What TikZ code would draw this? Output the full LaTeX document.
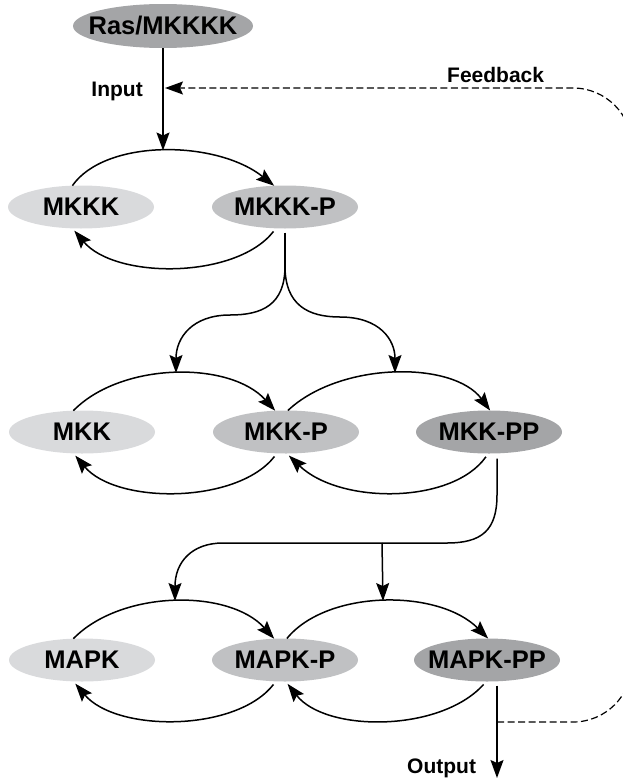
\documentclass[tikz,border=0pt]{standalone}
\usepackage{fontspec}
\setmainfont{Liberation Sans}
\usetikzlibrary{arrows.meta,shapes.geometric}
\definecolor{lightg}{RGB}{217,218,220}
\definecolor{midg}{RGB}{192,193,195}
\definecolor{darkg}{RGB}{164,165,167}
\tikzset{
  species/.style={ellipse, minimum width=146pt, minimum height=43pt, inner sep=0pt, outer sep=0pt,
    font=\fontsize{25.5}{28}\selectfont\bfseries},
  lbl/.style={font=\fontsize{21}{24}\selectfont\bfseries, inner sep=0pt},
  conn/.style={line width=1.5pt, black},
  tip/.style={-{Stealth[length=18pt,width=13pt,inset=3pt]}},
  arr/.style={conn, tip},
  barr/.style={arr, shorten <=4pt, shorten >=3pt},
  fb/.style={line width=1.2pt, dash pattern=on 7pt off 3.5pt, rounded corners=59pt, tip},
}
\begin{document}
\begin{tikzpicture}[x=1pt,y=-1pt]
\useasboundingbox (0,0) rectangle (623,779);
\clip (0,0) rectangle (623,779);

% species
\node[species, fill=darkg, minimum width=180pt, minimum height=44pt] (ras) at (163,26) {\makebox[0pt]{Ras/MKKKK}};
\node[species, fill=lightg] (mkkk)  at (81,207)  {\makebox[0pt]{MKKK}};
\node[species, fill=midg]   (mkkkp) at (285,207) {\makebox[0pt]{MKKK-P}};
\node[species, fill=lightg] (mkk)   at (82,432)  {\makebox[0pt]{MKK}};
\node[species, fill=midg]   (mkkp)  at (286,432) {\makebox[0pt]{MKK-P}};
\node[species, fill=darkg]  (mkkpp) at (489,432) {\makebox[0pt]{MKK-PP}};
\node[species, fill=lightg] (mapk)   at (82,660)  {\makebox[0pt]{MAPK}};
\node[species, fill=midg]   (mapkp)  at (285,660) {\makebox[0pt]{MAPK-P}};
\node[species, fill=darkg]  (mapkpp) at (487,660) {\makebox[0pt]{MAPK-PP}};

% labels
\node[lbl, anchor=base east] (input) at (143,96.5) {Input};
\node[lbl, anchor=base west] (feedback) at (447,82) {Feedback};
\node[lbl, anchor=base west] (output) at (407,773) {Output};

% named points on connectors
\coordinate (apexA)  at (163,150.5);
\coordinate (splitA) at (285,266);
\coordinate (apexB1) at (176,373);
\coordinate (apexB2) at (395,373);
\coordinate (splitB) at (382,543);
\coordinate (apexC1) at (175,601);
\coordinate (apexC2) at (383,601);
\coordinate (outend) at (497,778);
\coordinate (fbstart) at (497,722);
\coordinate (fbend) at (165,88);

% input
\draw[arr] (ras.south) -- (apexA);

% MKKK cycle
\draw[arr] (mkkk.112) .. controls +(33,-47) and +(-58,-46) .. (mkkkp.117);
\draw[barr] (mkkkp.247) .. controls +(-40,51) and +(43,51) .. (mkkk.248);

% MKKK-P split
\draw[conn] ([yshift=-4pt]mkkkp.south) -- (splitA);
\draw[arr] (splitA) .. controls (285,305) and (262,315) .. (230,315) .. controls (192,315) and (176,338) .. (apexB1);
\draw[arr] (splitA) .. controls (285,305) and (308,317) .. (340,317) .. controls (380,317) and (395,340) .. (apexB2);

% MKK cycle
\draw[arr] (mkk.112) .. controls +(48,-49) and +(-45,-50) .. (mkkp.117);
\draw[arr] (mkkp.85) .. controls +(52,-49) and +(-37,-50) .. (mkkpp.87);
\draw[barr] (mkkpp.268) .. controls +(-36,51) and +(53,51) .. (mkkp.272);
\draw[barr] (mkkp.247) .. controls +(-40,51) and +(43,51) .. (mkk.248);

% MKK-PP split
\draw[conn] ([xshift=8pt,yshift=-5pt]mkkpp.south) -- (497,495) .. controls (497,530) and (482,543) .. (447,543) -- (splitB);
\draw[arr] (splitB) -- (223,543) .. controls (192,543) and (175,562) .. (apexC1);
\draw[arr] (splitB) -- (apexC2);

% MAPK cycle
\draw[arr] (mapk.112) .. controls +(48,-49) and +(-45,-50) .. (mapkp.117);
\draw[arr] (mapkp.85) .. controls +(40,-49) and +(-50,-50) .. (mapkpp.87);
\draw[barr] (mapkpp.268) .. controls +(-46,51) and +(40,51) .. (mapkp.272);
\draw[barr] (mapkp.247) .. controls +(-40,51) and +(43,51) .. (mapk.248);

% output and feedback
\draw[arr] ([xshift=10pt,yshift=-4pt]mapkpp.south) -- (outend);
\draw[fb] (fbstart) -- (632,722) -- (632,88) -- (fbend);
\end{tikzpicture}
\end{document}
